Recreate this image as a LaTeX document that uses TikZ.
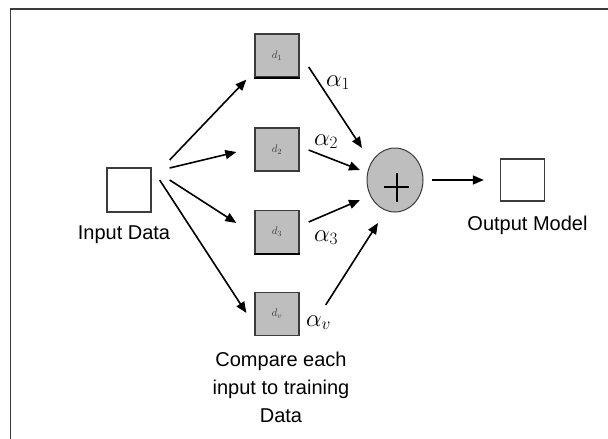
\documentclass[tikz,border=0pt]{standalone}
\usepackage{fontspec}
\setmainfont{Liberation Sans}
\usetikzlibrary{arrows.meta,shapes.geometric}
\definecolor{boxgray}{RGB}{190,190,190}
\definecolor{edgegray}{RGB}{60,60,60}
\begin{document}
\begin{tikzpicture}[x=1pt,y=-1pt,
  arr/.style={line width=1.6pt,-{Triangle[length=11pt,width=9pt]}},
  dbox/.style={draw=edgegray,line width=1.3pt,fill=boxgray,minimum width=44pt,minimum height=43pt,inner sep=0pt,
     font=\fontsize{11}{11}\selectfont\color{edgegray}},
  wbox/.style={draw=edgegray,line width=1.3pt,fill=white,minimum width=44pt,minimum height=44pt,inner sep=0pt},
  lab/.style={inner sep=0pt,font=\fontsize{20}{28}\selectfont},
  alab/.style={inner sep=0pt,anchor=base west,font=\fontsize{23}{23}\selectfont}]
\useasboundingbox (0,0) rectangle (608,439);
% frame
\draw[line width=1.6pt,color=edgegray] (10.5,439) -- (10.5,9) -- (608,9);
% nodes
\node[wbox] (in) at (129,190) {};
\node[lab,anchor=base] (inl) at (124,239) {Input Data};
\node[dbox] (d1) at (277,55.5) {$d_1$};
\node[dbox] (d2) at (277,149.5) {$d_2$};
\node[dbox] (d3) at (277,232) {$d_3$};
\node[dbox] (d4) at (277,314) {$d_v$};
\draw[line width=2.2pt] (d1.south west) -- (d1.south east);
\draw[line width=2.2pt] (d3.south west) -- (d3.south east);
\node[lab,anchor=north,align=center] (cmp) at (281,352) {Compare each\\input to training\\Data};
\node[ellipse,draw=edgegray,line width=1pt,fill=boxgray,minimum width=56pt,minimum height=64pt,inner sep=0pt] (sum) at (395,180) {};
\draw[line width=2pt] ([shift={(-11,7)}]sum.center) -- ([shift={(14,7)}]sum.center);
\draw[line width=2pt] ([shift={(1.5,-7)}]sum.center) -- ([shift={(1.5,22)}]sum.center);
\node[wbox,minimum height=42pt] (out) at (522.5,180) {};
\node[lab,anchor=base] (outl) at (527.5,230) {Output Model};
% alpha labels
\node[alab] (a1) at (326,86) {$\alpha_1$};
\node[alab] (a2) at (314,145) {$\alpha_2$};
\node[alab] (a3) at (314,241) {$\alpha_3$};
\node[alab] (av) at (306,326) {$\alpha_v$};
% connectors input -> d
\draw[arr] ([shift={(18,-30)}]in.east) -- ([shift={(-8,2)}]d1.south west);
\draw[arr] ([shift={(18,-22)}]in.east) -- ([shift={(-18,2.5)}]d2.west);
\draw[arr] ([shift={(18,-10)}]in.east) -- ([shift={(-18,-9)}]d3.west);
\draw[arr] ([shift={(8,-10)}]in.east) -- ([shift={(-8,-1)}]d4.west);
% connectors d -> sum
\draw[arr] ([shift={(9,11.5)}]d1.east) -- ([shift={(-33,-32)}]sum.center);
\draw[arr] ([shift={(9,0.5)}]d2.east) -- ([shift={(-35,-10)}]sum.center);
\draw[arr] ([shift={(9,-10)}]d3.east) -- ([shift={(-35,20)}]sum.center);
\draw[arr] ([shift={(26,-9)}]d4.east) -- ([shift={(-17,43)}]sum.center);
% sum -> output
\draw[arr] ([xshift=8pt]sum.east) -- ([xshift=-16pt]out.west);
\end{tikzpicture}
\end{document}
